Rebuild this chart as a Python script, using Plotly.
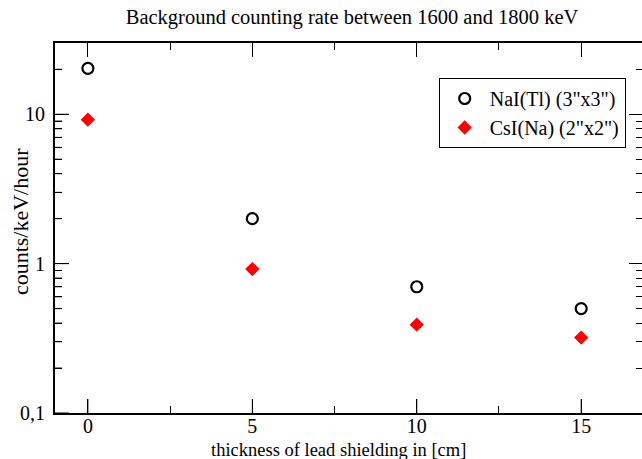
import plotly.graph_objects as go
import math

thickness = [0, 5, 10, 15]
nai_rate = [20.3, 2.0, 0.70, 0.50]
csi_rate = [9.2, 0.92, 0.39, 0.32]
nai_name = 'NaI(Tl) (3"x3")'
csi_name = 'CsI(Na) (2"x2")'
y_tickvals = [0.1, 1, 10]
y_ticktext = ["0,1", "1", "10"]
x_tickvals = [0, 5, 10, 15]

FONT = "Liberation Serif, Times New Roman, serif"

W, H = 645, 459
L, T, B = 55, 43, 46
PW, PH = W - L, H - T - B
MAJ, MIN = 14, 7

fig = go.Figure()
fig.add_trace(go.Scatter(
    x=thickness, y=nai_rate, mode="markers", name=nai_name,
    marker=dict(symbol="circle-open", size=11, color="black", line=dict(width=2.2, color="black")),
))
fig.add_trace(go.Scatter(
    x=thickness, y=csi_rate, mode="markers", name=csi_name,
    marker=dict(symbol="diamond", size=11, color="red", line=dict(width=0)),
))
# invisible trace carrying the tick-only overlay axes
fig.add_trace(go.Scatter(x=thickness, y=nai_rate, xaxis="x2", yaxis="y2", mode="markers",
                         marker=dict(opacity=0), showlegend=False, hoverinfo="skip"))

xr = [-1, -1 + PW / 33.0]
yr = [-1, math.log10(30)]


def ypaper(v):
    return (math.log10(v) - yr[0]) / (yr[1] - yr[0])


tick_common = dict(ticks="inside", ticklen=MAJ, tickwidth=1, tickcolor="black",
                   showgrid=False, zeroline=False)

# ticks on bottom and left edges (inside), placed through the axes' scales
shapes = []
for v in x_tickvals:
    shapes.append(dict(type="line", xref="x", yref="paper", x0=v, x1=v, y0=0, y1=MAJ / PH,
                       line=dict(color="black", width=1)))
for v in y_tickvals:
    shapes.append(dict(type="line", xref="paper", yref="paper", x0=0, x1=MAJ / PW,
                       y0=ypaper(v), y1=ypaper(v), line=dict(color="black", width=1)))
for d in y_tickvals:
    for m in range(2, 10):
        v = m * d
        if v <= 10 ** yr[1]:
            shapes.append(dict(type="line", xref="paper", yref="paper", x0=0, x1=MIN / PW,
                               y0=ypaper(v), y1=ypaper(v), line=dict(color="black", width=1)))

fig.update_layout(
    width=W, height=H,
    margin=dict(l=L, r=0, t=T, b=B),
    paper_bgcolor="white", plot_bgcolor="white",
    font=dict(family=FONT, color="black", size=20),
    title=dict(text="Background counting rate between 1600 and 1800 keV",
               x=352 / W, xanchor="center", y=1 - 17 / H, yanchor="middle",
               font=dict(size=20.5, family=FONT)),
    xaxis=dict(range=xr, tickvals=x_tickvals, ticks="", showline=True, linecolor="black",
               linewidth=2, mirror=True, showgrid=False, zeroline=False,
               tickfont=dict(size=20), ticklabelstandoff=-6),
    yaxis=dict(type="log", range=yr, tickvals=y_tickvals, ticktext=y_ticktext, ticks="",
               showline=True, linecolor="black", linewidth=2, mirror=True,
               showgrid=False, zeroline=False, tickfont=dict(size=20), ticklabelstandoff=4),
    xaxis2=dict(range=xr, overlaying="x", side="top", anchor="y2", tickvals=x_tickvals,
                showticklabels=False, showline=False, mirror="ticks",
                minor=dict(ticks="inside", ticklen=MIN, dtick=2.5, tickcolor="black", showgrid=False),
                **tick_common),
    yaxis2=dict(type="log", range=yr, overlaying="y", side="right", anchor="x2",
                tickvals=y_tickvals, showticklabels=False, showline=False, mirror="ticks",
                minor=dict(ticks="inside", ticklen=MIN, dtick="D1", tickcolor="black", showgrid=False),
                **tick_common),
    shapes=shapes,
    legend=dict(x=(440 - L) / PW, y=1 - (78 - T) / PH, xanchor="left", yanchor="top",
                bordercolor="black", borderwidth=1, bgcolor="white",
                font=dict(size=20, family=FONT), itemwidth=40, tracegroupgap=0),
    showlegend=True,
    annotations=[
        dict(text="thickness of lead shielding in [cm]", xref="paper", yref="paper",
             x=(339 - L) / PW, y=-(450 - (T + PH)) / PH, xanchor="center", yanchor="middle",
             showarrow=False, font=dict(size=18.5, family=FONT)),
        dict(text="counts/keV/hour", xref="paper", yref="paper", textangle=-90,
             x=(21 - L) / PW, y=1 - (222 - T) / PH, xanchor="center", yanchor="middle",
             showarrow=False, font=dict(size=22, family=FONT)),
    ],
)

fig.write_html("out.html",
               post_script="document.documentElement.style.overflow='hidden';document.body.style.overflow='hidden';")
